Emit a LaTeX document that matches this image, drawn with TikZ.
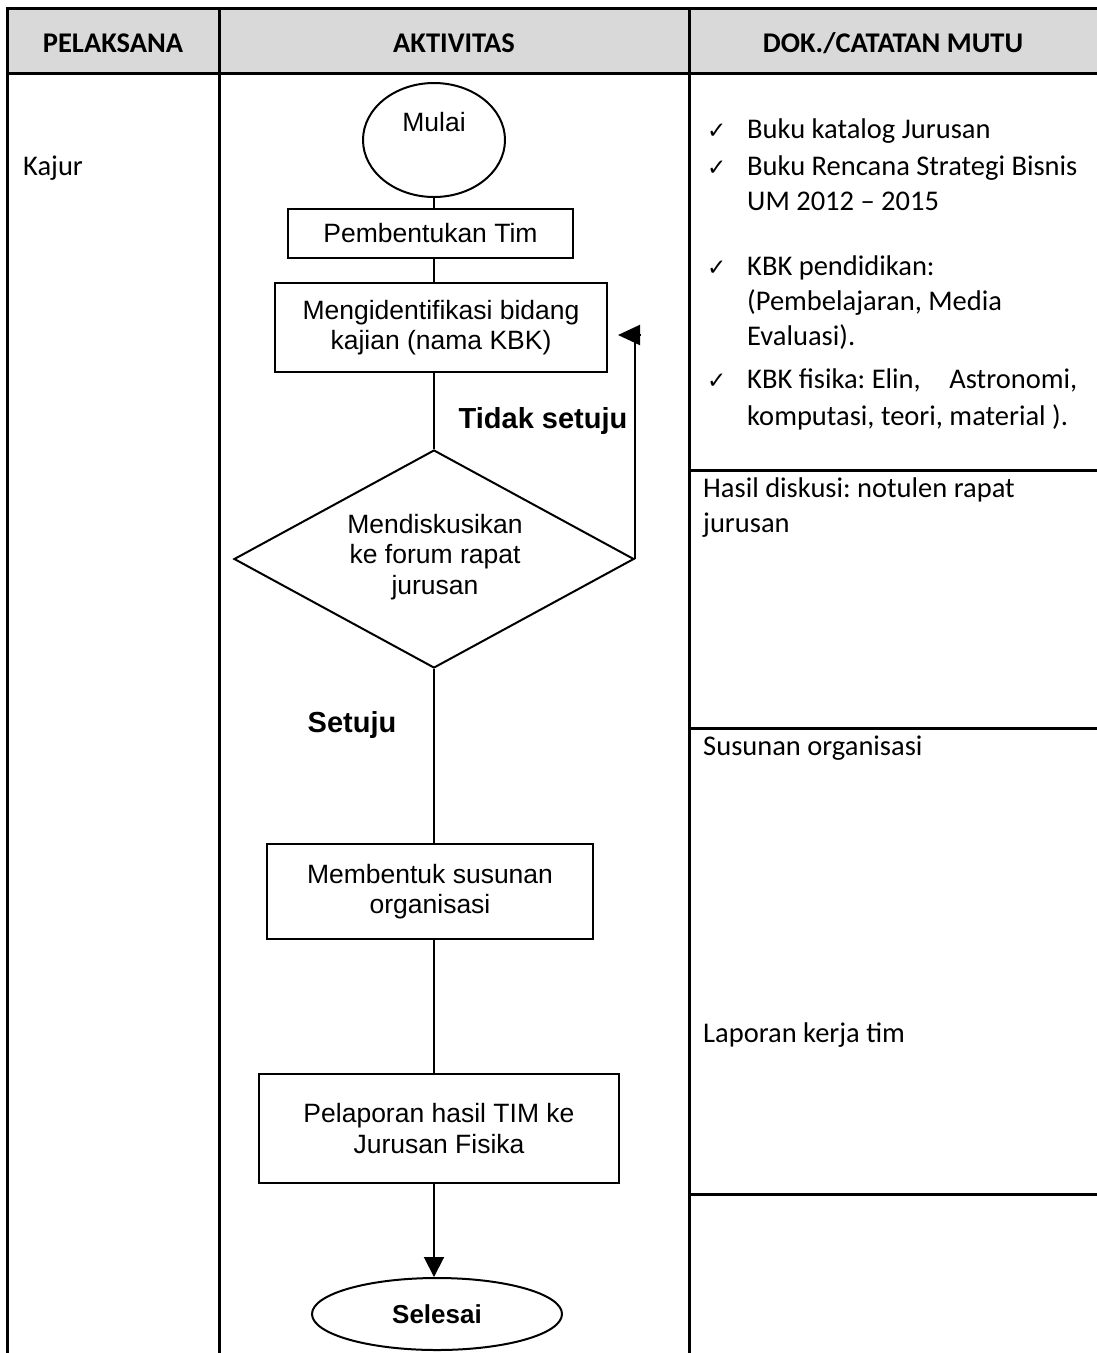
\documentclass[tikz,border=0pt]{standalone}
\usepackage{fontspec}
\usetikzlibrary{shapes.geometric,arrows.meta}
\newfontfamily\calib{Carlito}
\newfontfamily\arialf{Liberation Sans}
\newfontfamily\dejav{DejaVu Sans}
\definecolor{hdr}{HTML}{D9D9D9}
\tikzset{
 tbl/.style={line width=3pt},
 conn/.style={line width=2pt},
 arr/.style={line width=2pt, -{Triangle[length=20pt,width=20pt]}},
 body/.style={font=\calib\fontsize{28.5}{35.5}\selectfont, inner sep=0pt, anchor=base west},
 head/.style={font=\calib\bfseries\fontsize{28.5}{34}\selectfont, inner sep=0pt},
 chk/.style={font=\dejav\fontsize{23}{26}\selectfont, inner sep=0pt, anchor=base west},
 box/.style={draw, line width=2pt, rectangle, inner sep=0pt, align=center, font=\arialf\fontsize{26.5}{30.5}\selectfont},
 ftext/.style={inner sep=0pt, align=center, font=\arialf\fontsize{26.5}{30.5}\selectfont},
 blabel/.style={inner sep=0pt, font=\arialf\bfseries\fontsize{29}{34}\selectfont},
 oval/.style={draw, ellipse, line width=2pt, inner sep=0pt},
}
\begin{document}
\frenchspacing
\begin{tikzpicture}[x=1pt,y=-1pt]
\useasboundingbox (0,0) rectangle (1097,1353);
\clip (0,0) rectangle (1097,1353);
% table
\fill[hdr] (7,8) rectangle (1110,73);
\draw[tbl] (7,1370) -- (7,8) -- (1110,8);
\draw[tbl] (7,73) -- (1110,73);
\draw[tbl] (219,8) -- (219,1370);
\draw[tbl] (689,8) -- (689,1370);
\draw[tbl] (689,470) -- (1110,470);
\draw[tbl] (689,728) -- (1110,728);
\draw[tbl] (689,1194) -- (1110,1194);
% headers
\node[head] (h1) at (113,43) {PELAKSANA};
\node[head] (h2) at (454,43) {AKTIVITAS};
\node[head] (h3) at (893,43) {DOK./CATATAN MUTU};
% left column
\node[body] (kajur) at (23,175) {Kajur};
% flowchart
\node[oval, minimum width=142pt, minimum height=114pt] (mulai) at (434,140) {};
\node[ftext] (mulait) at (434,122) {Mulai};
\node[box, minimum width=285pt, minimum height=49pt] (tim) at (430.5,233.5) {Pembentukan Tim};
\node[box, minimum width=332pt, minimum height=89pt] (kbk) at (441,327.5) {Mengidentifikasi bidang\\kajian (nama KBK)};
\node[draw, diamond, line width=2pt, minimum width=400pt, minimum height=218pt, inner sep=0pt] (disk) at (434,559) {};
\node[ftext] (diskt) at (435,557) {Mendiskusikan\\ke forum rapat\\jurusan};
\node[box, minimum width=326pt, minimum height=95pt] (org) at (430,891.5) {Membentuk susunan\\organisasi};
\node[box, minimum width=360pt, minimum height=109pt] (lap) at (439,1128.5) {Pelaporan hasil TIM ke\\Jurusan Fisika};
\node[oval, minimum width=250pt, minimum height=72pt, font=\arialf\bfseries\fontsize{26}{30}\selectfont] (selesai) at (437,1314) {Selesai};
% labels
\node[blabel] (tidak) at (543,421) {Tidak setuju};
\node[blabel] (setuju) at (352,725) {Setuju};
% connectors
\draw[conn] (mulai.south) -- (mulai.south |- tim.north);
\draw[conn] (mulai.south |- tim.south) -- (mulai.south |- kbk.north);
\draw[conn] (mulai.south |- kbk.south) -- (disk.north);
\draw[conn] (disk.south) -- (disk.south |- org.north);
\draw[conn] (disk.south |- org.south) -- (disk.south |- lap.north);
\draw[arr] (disk.south |- lap.south) -- (disk.south |- selesai.north);
\coordinate (rb) at (641,335);
\coordinate (rt) at (618,335);
\draw[conn] (disk.east) -- (disk.east |- rt);
\draw[line width=2pt, -{Triangle[length=22pt,width=20pt]}] (rb) -- (rt);
% right column
\node[chk] (c1) at (707,138) {✓};
\node[body] (t1) at (747,138) {Buku katalog Jurusan};
\node[chk] (c2) at (707,175) {✓};
\node[body] (t2a) at (747,175) {Buku Rencana Strategi Bisnis};
\node[body] (t2b) at (747,210) {UM 2012 – 2015};
\node[chk] (c3) at (707,275) {✓};
\node[body] (t3a) at (747,275) {KBK pendidikan:};
\node[body] (t3b) at (747,310) {(Pembelajaran, Media};
\node[body] (t3c) at (747,345) {Evaluasi).};
\node[chk] (c4) at (707,388) {✓};
\node[body] (t4a) at (747,388) {\makebox[330pt][l]{KBK fisika: Elin,\hfill Astronomi,}};
\node[body] (t4b) at (747,425) {komputasi, teori, material ).};
\node[body] (r2a) at (703,497) {Hasil diskusi: notulen rapat};
\node[body] (r2b) at (703,532) {jurusan};
\node[body] (r3) at (703,755) {Susunan organisasi};
\node[body] (r4) at (703,1042) {Laporan kerja tim};
\end{tikzpicture}
\end{document}
